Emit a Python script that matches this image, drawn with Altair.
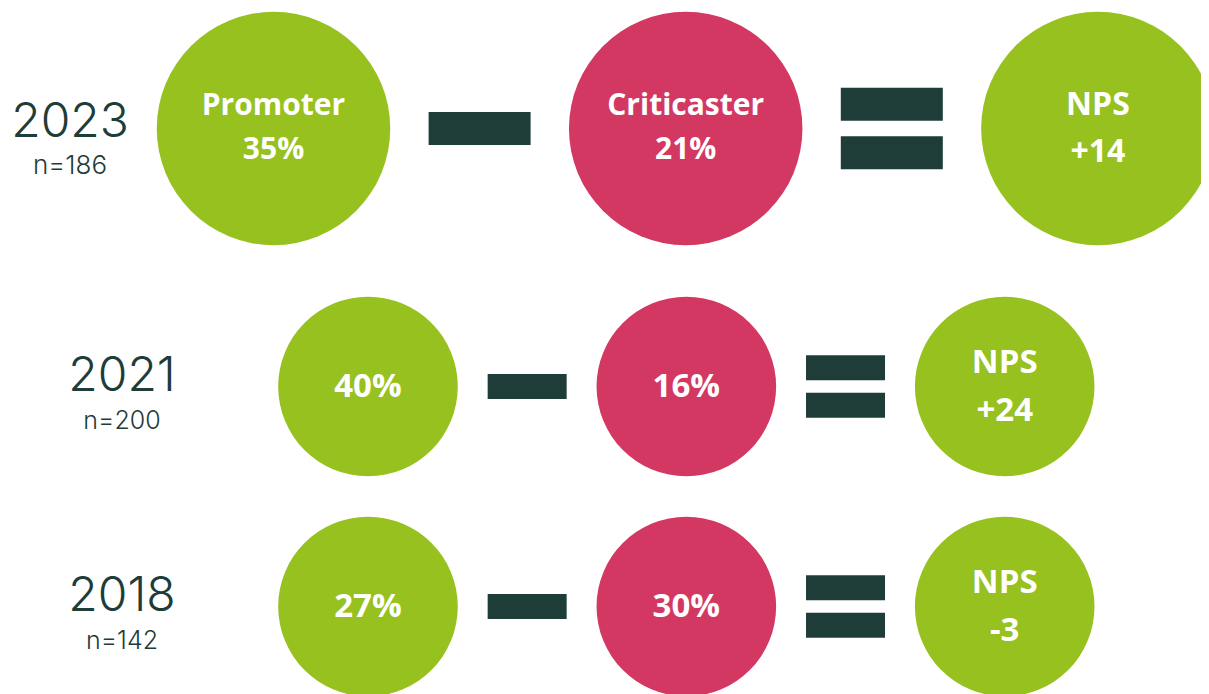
import altair as alt
import pandas as pd

# ---- values ----
years = ["2023", "2021", "2018"]
sample_sizes = [186, 200, 142]
promoter_pct = [35, 40, 27]
criticaster_pct = [21, 16, 30]
nps_scores = [14, 24, -3]
named_rows = ["2023"]          # only this row spells out the group names

slots = ["label", "promoter", "minus", "criticaster", "equals", "nps"]
kinds = ["positive", "negative"]

GREEN = "#96C11F"
PINK = "#D33862"
DARK = "#1E3C38"
BOLD_FONT = "Open Sans"
LIGHT_FONT = "Inter"

# ---- tables built from the arrays ----
circle_rows, op_rows, label_rows = [], [], []
for yr, n, p, c, s in zip(years, sample_sizes, promoter_pct, criticaster_pct, nps_scores):
    named = yr in named_rows
    grp = "named" if named else "value"
    circle_rows.append(dict(year=yr, slot="promoter", kind="positive", group=grp,
                            text=("Promoter\n" if named else "") + f"{p}%"))
    circle_rows.append(dict(year=yr, slot="criticaster", kind="negative", group=grp,
                            text=("Criticaster\n" if named else "") + f"{c}%"))
    circle_rows.append(dict(year=yr, slot="nps", kind="positive", group="nps",
                            text=f"NPS\n{s:+d}"))
    op_rows.append(dict(year=yr, slot="minus"))
    op_rows.append(dict(year=yr, slot="equals"))
    label_rows.append(dict(year=yr, slot="label", n=f"n={n}"))

circles = pd.DataFrame(circle_rows)
ops = pd.DataFrame(op_rows)
labels = pd.DataFrame(label_rows)


def row_group(sel, x_range, y_range, diam, text_styles, bar_len, bar_th, eq_gap,
              label_dx, ysize, ydy, nsize, ndy):
    x = alt.X("slot:N", scale=alt.Scale(type="point", domain=slots, range=x_range, padding=0),
              axis=None)
    y = alt.Y("year:N", scale=alt.Scale(type="point", domain=sel, range=y_range, padding=0),
              axis=None)
    c_df = circles[circles.year.isin(sel)]
    o_df = ops[ops.year.isin(sel)]
    l_df = labels[labels.year.isin(sel)]

    layers = [
        alt.Chart(c_df).mark_circle(size=diam * diam, opacity=1).encode(
            x=x, y=y,
            color=alt.Color("kind:N", scale=alt.Scale(domain=kinds, range=[GREEN, PINK]),
                            legend=None),
        )
    ]
    for grp, (fsize, lh, tdy) in text_styles.items():
        g_df = c_df[c_df.group == grp]
        if g_df.empty:
            continue
        layers.append(
            alt.Chart(g_df).mark_text(
                lineBreak="\n", lineHeight=lh, baseline="middle", align="center",
                font=BOLD_FONT, fontWeight="bold", fontSize=fsize, color="white", dy=tdy,
            ).encode(x=x, y=y, text="text:N")
        )
    layers.append(
        alt.Chart(o_df[o_df.slot == "minus"]).mark_tick(
            orient="horizontal", size=bar_len, thickness=bar_th, color=DARK, opacity=1
        ).encode(x=x, y=y)
    )
    eq_df = o_df[o_df.slot == "equals"]
    for off in (-eq_gap, eq_gap):
        layers.append(
            alt.Chart(eq_df).mark_tick(
                orient="horizontal", size=bar_len, thickness=bar_th, color=DARK, opacity=1,
                yOffset=off,
            ).encode(x=x, y=y)
        )
    layers.append(
        alt.Chart(l_df).mark_text(
            font=LIGHT_FONT, fontWeight=300, fontSize=ysize, color=DARK, align="center",
            baseline="alphabetic", dx=label_dx, dy=ydy,
        ).encode(x=x, y=y, text="year:N")
    )
    layers.append(
        alt.Chart(l_df).mark_text(
            font=LIGHT_FONT, fontWeight=300, fontSize=nsize, color=DARK, align="center",
            baseline="alphabetic", dx=label_dx, dy=ndy,
        ).encode(x=x, y=y, text="n:N")
    )
    return alt.layer(*layers)


big = row_group(
    ["2023"], [59.4, 1089.9], [120.5, 120.5], 233.5,
    {"named": (30, 43.5, -22.5), "nps": (32, 47.5, -24)},
    102, 33, 24.25, 2.6, 48, 8, 26, 45.5,
)
small = row_group(
    ["2021", "2018"], [200.8, 996.7], [378.5, 598.5], 179.6,
    {"value": (33, 40, 0), "nps": (33, 48, -24)},
    79, 25, 18.7, -86.8, 48, 4.7, 25, 42,
)

chart = (
    alt.layer(big, small)
    .resolve_scale(x="independent", y="independent")
    .properties(width=1193, height=686, padding=0, background="white",
                autosize=alt.AutoSizeParams(type="none"))
    .configure_view(stroke=None)
)

chart.save("out.html", embed_options={"renderer": "svg", "actions": False})
